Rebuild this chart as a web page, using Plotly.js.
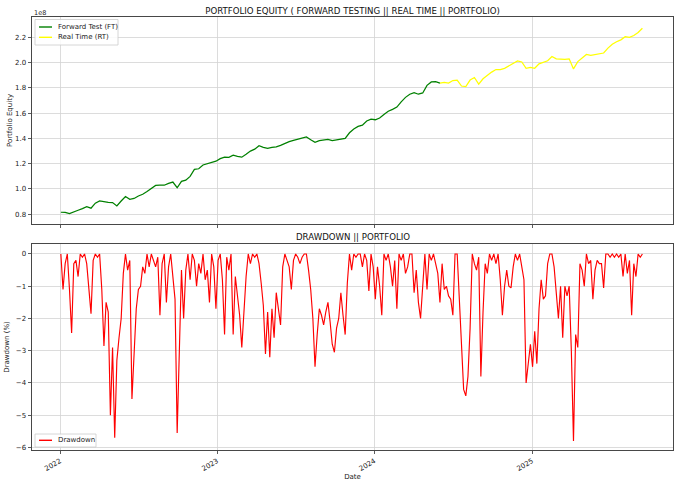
<!DOCTYPE html>
<html>
<head>
<meta charset="utf-8">
<script src="https://cdn.plot.ly/plotly-3.0.1.min.js"></script>
<style>html,body{margin:0;padding:0;background:#fff;}#chart{width:680px;height:486px;}</style>
</head>
<body>
<div id="chart"></div>
<script>
// ---------- DATA ----------
// Equity, in units of 1e8, one value every 10 calendar days starting 2022-01-03
const equityStart = '2022-01-03';
const equityStepDays = 10;
const ftEquity = [
  0.816,0.815,0.806,0.822,0.832,0.845,0.860,0.848,0.888,0.905,
  0.897,0.895,0.893,0.866,0.905,0.940,0.918,0.925,0.945,0.958,
  0.980,1.005,1.028,1.030,1.030,1.045,1.055,1.010,1.060,1.070,
  1.100,1.155,1.160,1.190,1.200,1.205,1.220,1.240,1.252,1.250,
  1.268,1.258,1.252,1.275,1.300,1.315,1.342,1.330,1.322,1.330,
  1.333,1.345,1.362,1.375,1.385,1.395,1.402,1.412,1.390,1.370,
  1.382,1.390,1.392,1.382,1.388,1.390,1.400,1.445,1.475,1.495,
  1.505,1.538,1.553,1.548,1.562,1.590,1.615,1.630,1.648,1.690,
  1.725,1.750,1.763,1.750,1.760,1.820,1.847,1.850,1.838
];
// Real time segment continues from the last Forward Test point
const rtEquity = [
  1.838,1.843,1.838,1.858,1.862,1.815,1.810,1.862,1.882,1.830,
  1.872,1.902,1.925,1.945,1.944,1.955,1.975,1.990,2.013,2.005,
  1.955,1.962,1.955,1.990,2.005,2.015,2.048,2.030,2.028,2.026,
  2.030,1.950,2.008,2.040,2.065,2.058,2.066,2.070,2.076,2.115,
  2.145,2.165,2.180,2.205,2.200,2.215,2.238,2.272
];
// Drawdown (%), one value every 5 calendar days starting 2022-01-03
const ddStart = '2022-01-03';
const ddStepDays = 5;
const drawdown = [
  0,-1.1,-0.3,0,-1.1,-2.45,-0.3,-0.2,-0.7,0,
  -0.1,0,-0.3,-1.0,-1.85,-0.2,0,-0.1,0,-1.1,
  -2.85,-1.5,-1.8,-5.0,-2.9,-5.7,-3.3,-2.6,-2.0,-0.6,
  0,-0.5,-0.2,-4.5,-3.0,-1.7,-1.1,-1.0,-0.4,-0.6,
  0,-0.4,0,-0.2,-0.4,-0.1,-1.9,-0.3,0,-1.5,
  -0.4,0,-0.6,-1.4,-5.55,-2.5,-0.5,-2.0,-0.5,0,
  -0.8,0,-0.2,-1.0,-0.3,-0.6,0,-0.8,-0.5,-1.5,
  0,-0.4,-1.7,-0.2,0,-0.8,-2.5,-0.1,-0.5,0,
  -2.5,-0.7,-1.3,-1.9,-2.9,-1.6,-0.7,0,-0.3,0,
  -0.1,0,-0.3,-0.9,-1.6,-3.1,-1.8,-3.2,-1.7,-2.6,
  -1.2,-1.7,-2.2,-0.4,0,-0.2,-0.4,-1.1,-0.2,0,
  -0.1,-0.3,-0.1,0,0,-0.5,-1.1,-2.0,-3.5,-2.5,
  -1.7,-1.9,-2.2,-1.8,-1.5,-2.1,-2.8,-3.05,-2.3,-2.0,
  -1.2,-1.9,-2.5,-0.9,0,-0.5,0,-0.1,0,0,
  -0.4,0,-0.2,-1.15,0,-0.4,-1.4,-0.4,-1.0,-1.9,
  0,-0.2,0,-0.4,-1.0,-0.2,-1.7,0,-0.2,0,
  -0.6,-0.4,0,0,-1.2,-0.5,-1.5,-2.0,-1.0,0,
  -1.1,0,-0.2,0,-0.3,-0.6,-1.5,-0.3,-1.1,-1.0,
  -1.3,-1.4,-1.9,0,0,-1.5,-2.7,-4.2,-4.4,-3.8,
  -2.3,0,-0.3,-0.5,-0.1,-3.8,-1.8,-0.3,-0.6,0,
  -0.2,0,-0.3,0,-0.8,-1.9,-1.0,-0.5,-1.0,-1.05,
  -0.4,0,-0.2,0,-0.4,-0.8,-4.0,-3.4,-2.8,-3.5,
  -2.4,-3.4,-1.7,-0.8,-1.4,-1.3,-0.3,0,0,-0.4,
  -1.3,-2.0,-1.0,-2.6,-1.0,-1.3,-1.0,-3.0,-5.8,-2.5,
  -2.9,-0.3,-0.5,-1.0,0,-0.3,-0.2,-1.4,-0.5,-0.2,
  -0.3,-0.3,-1.05,0,0,-0.1,0,-0.1,0,-0.1,
  0,-0.7,0,-0.6,-0.2,-1.9,-0.3,-0.7,0,-0.1,
  0
];
const yearTicks = ['2022-01-01','2023-01-01','2024-01-01','2025-01-01'];
const yearLabels = ['2022','2023','2024','2025'];
const equityTicks = [0.8,1.0,1.2,1.4,1.6,1.8,2.0,2.2];
const ddTicks = [0,-1,-2,-3,-4,-5,-6];
const seriesNames = ['Forward Test (FT)','Real Time (RT)','Drawdown'];
const seriesColors = ['#008000','#ffff00','#ff0000'];

// ---------- helpers ----------
function addDays(iso, n){
  const d = new Date(iso + 'T00:00:00Z');
  d.setUTCDate(d.getUTCDate() + n);
  return d.toISOString().slice(0,10);
}
const ftDates = ftEquity.map((_, i) => addDays(equityStart, i*equityStepDays));
const rtOffset = ftEquity.length - 1;
const rtDates = rtEquity.map((_, i) => addDays(equityStart, (rtOffset + i)*equityStepDays));
const ddDates = drawdown.map((_, i) => addDays(ddStart, i*ddStepDays));

// ---------- layout geometry ----------
const W = 680, H = 486;
const px = v => v / W;
const py = v => 1 - v / H;
const FONT = 'DejaVu Sans, Liberation Sans, sans-serif';
const axisCommon = {
  type: 'date',
  range: ['2021-10-28','2025-11-24'],
  tickvals: yearTicks,
  ticktext: yearLabels,
  showline: true, mirror: true, linecolor: '#333', linewidth: 0.9,
  ticks: 'outside', ticklen: 3.5, tickwidth: 0.8, tickcolor: '#333',
  showgrid: true, gridcolor: '#d3d3d3', gridwidth: 0.8,
  zeroline: false, fixedrange: true,
  tickfont: {family: FONT, size: 7, color: '#222'}
};

const traces = [
  {x: ftDates, y: ftEquity, type: 'scatter', mode: 'lines', name: seriesNames[0],
   line: {color: seriesColors[0], width: 1.25}, xaxis: 'x', yaxis: 'y'},
  {x: rtDates, y: rtEquity, type: 'scatter', mode: 'lines', name: seriesNames[1],
   line: {color: seriesColors[1], width: 1.25}, xaxis: 'x', yaxis: 'y'},
  {x: ddDates, y: drawdown, type: 'scatter', mode: 'lines', name: seriesNames[2],
   line: {color: seriesColors[2], width: 1.15}, xaxis: 'x2', yaxis: 'y2'}
];

// compact matplotlib-like legends (box, key line, label)
function legendBox(x0, y0, x1, y1){
  return {type: 'rect', xref: 'paper', yref: 'paper', x0: px(x0), x1: px(x1), y0: py(y1), y1: py(y0),
          line: {color: '#cccccc', width: 0.8}, fillcolor: 'rgba(255,255,255,0.85)', layer: 'above'};
}
function legendKey(yc, color){
  return {type: 'line', xref: 'paper', yref: 'paper', x0: px(39), x1: px(52), y0: py(yc), y1: py(yc),
          line: {color: color, width: 1.4}, layer: 'above'};
}
function legendText(yc, text){
  return {text: text, x: px(56), y: py(yc), xref: 'paper', yref: 'paper', xanchor: 'left', yanchor: 'middle',
          showarrow: false, font: {family: FONT, size: 7, color: '#222'}};
}

const layout = {
  width: W, height: H,
  margin: {l: 0, r: 0, t: 0, b: 0, pad: 0},
  paper_bgcolor: '#fff', plot_bgcolor: '#fff',
  font: {family: FONT, size: 7, color: '#222'},
  showlegend: false,
  title: {text: 'PORTFOLIO EQUITY ( FORWARD TESTING || REAL TIME || PORTFOLIO)',
          font: {family: FONT, size: 8.6, color: '#111'},
          x: px(352.5), xanchor: 'center', y: py(11), yanchor: 'middle', xref: 'paper', yref: 'paper'},
  xaxis: Object.assign({}, axisCommon, {domain: [px(32), px(673)], anchor: 'y', showticklabels: false}),
  yaxis: {domain: [py(224), py(17)], anchor: 'x', range: [0.723, 2.361],
          tickvals: equityTicks, tickformat: '.1f',
          showline: true, mirror: true, linecolor: '#333', linewidth: 0.9,
          ticks: 'outside', ticklen: 3.5, tickwidth: 0.8, tickcolor: '#333',
          showgrid: true, gridcolor: '#d3d3d3', gridwidth: 0.8, zeroline: false, fixedrange: true,
          tickfont: {family: FONT, size: 7, color: '#222'},
          title: {text: 'Portfolio Equity', font: {family: FONT, size: 7, color: '#222'}, standoff: 1}},
  xaxis2: Object.assign({}, axisCommon, {domain: [px(32), px(673)], anchor: 'y2', tickangle: -30,
          title: {text: 'Date', font: {family: FONT, size: 7, color: '#222'}, standoff: 1}}),
  yaxis2: {domain: [py(450), py(244)], anchor: 'x2', range: [-6.08, 0.31],
          tickvals: ddTicks,
          showline: true, mirror: true, linecolor: '#333', linewidth: 0.9,
          ticks: 'outside', ticklen: 3.5, tickwidth: 0.8, tickcolor: '#333',
          showgrid: true, gridcolor: '#d3d3d3', gridwidth: 0.8, zeroline: false, fixedrange: true,
          tickfont: {family: FONT, size: 7, color: '#222'},
          title: {text: 'Drawdown (%)', font: {family: FONT, size: 7, color: '#222'}, standoff: 5}},
  shapes: [
    legendBox(35, 19.5, 118, 45), legendKey(27, seriesColors[0]), legendKey(37.3, seriesColors[1]),
    legendBox(35, 434, 96, 447), legendKey(440.3, seriesColors[2])
  ],
  annotations: [
    {text: 'DRAWDOWN || PORTFOLIO', x: px(352.5), y: py(237), xref: 'paper', yref: 'paper',
     xanchor: 'center', yanchor: 'middle', showarrow: false,
     font: {family: FONT, size: 8.6, color: '#111'}},
    {text: '1e8', x: px(32), y: py(13), xref: 'paper', yref: 'paper',
     xanchor: 'left', yanchor: 'middle', showarrow: false,
     font: {family: FONT, size: 6.5, color: '#222'}},
    legendText(27, seriesNames[0]), legendText(37.3, seriesNames[1]), legendText(440.3, seriesNames[2])
  ]
};

Plotly.newPlot('chart', traces, layout, {displayModeBar: false, staticPlot: true});
</script>
</body>
</html>
